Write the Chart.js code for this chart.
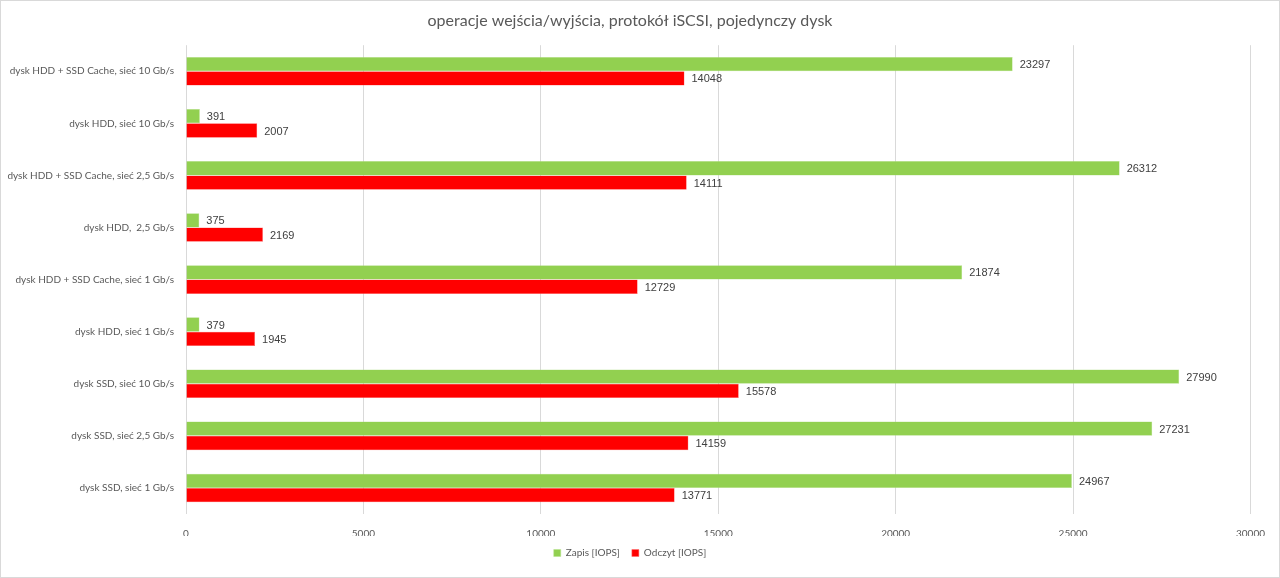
<!DOCTYPE html>
<html>
<head>
<meta charset="utf-8">
<script src="https://cdn.jsdelivr.net/npm/chart.js@4/dist/chart.umd.min.js"></script>
<style>
  html, body { margin: 0; padding: 0; background: #fff; }
  #wrap { position: relative; width: 1280px; height: 578px; box-sizing: border-box; border: 1px solid #d9d9d9; }
  canvas { display: block; }
</style>
</head>
<body>
<div id="wrap"><canvas id="chart" width="1278" height="576"></canvas></div>
<script>
// categories, top to bottom
const categories = [
  "dysk HDD + SSD Cache, sieć 10 Gb/s",
  "dysk HDD, sieć 10 Gb/s",
  "dysk HDD + SSD Cache, sieć 2,5 Gb/s",
  "dysk HDD,  2,5 Gb/s",
  "dysk HDD + SSD Cache, sieć 1 Gb/s",
  "dysk HDD, sieć 1 Gb/s",
  "dysk SSD, sieć 10 Gb/s",
  "dysk SSD, sieć 2,5 Gb/s",
  "dysk SSD, sieć 1 Gb/s"
];
const zapis = [23297, 391, 26312, 375, 21874, 379, 27990, 27231, 24967];
const odczyt = [14048, 2007, 14111, 2169, 12729, 1945, 15578, 14159, 13771];
const xMax = 30000;
const xStep = 5000;

const TEXT = "#595959";
const FONT = "Lato, 'Open Sans', sans-serif";

// value labels at end of each bar
const barLabels = {
  id: "barLabels",
  afterDatasetsDraw(chart) {
    const ctx = chart.ctx;
    ctx.save();
    ctx.font = "11px 'Liberation Sans', Arial, sans-serif";
    ctx.fillStyle = "#404040";
    ctx.textAlign = "left";
    ctx.textBaseline = "middle";
    chart.data.datasets.forEach((ds, i) => {
      chart.getDatasetMeta(i).data.forEach((bar, j) => {
        ctx.fillText(String(ds.data[j]), bar.x + 7, bar.y + 1);
      });
    });
    ctx.restore();
  }
};

new Chart(document.getElementById("chart"), {
  type: "bar",
  data: {
    labels: categories,
    datasets: [
      {
        label: "Zapis [IOPS]",
        data: zapis,
        backgroundColor: "#92D050",
        borderColor: "#b5e08a",
        borderWidth: 0.5,
        categoryPercentage: 0.55,
        barPercentage: 1.0
      },
      {
        label: "Odczyt [IOPS]",
        data: odczyt,
        backgroundColor: "#FF0000",
        borderColor: "#ff6666",
        borderWidth: 0.5,
        categoryPercentage: 0.55,
        barPercentage: 1.0
      }
    ]
  },
  options: {
    indexAxis: "y",
    responsive: false,
    animation: false,
    devicePixelRatio: 1,
    layout: { padding: { left: 0, right: 20, top: 0, bottom: 9 } },
    plugins: {
      title: {
        display: true,
        text: "operacje wejścia/wyjścia, protokół iSCSI, pojedynczy dysk",
        color: TEXT,
        font: { family: FONT, size: 16, weight: "normal" },
        padding: { top: 10, bottom: 15 }
      },
      legend: {
        position: "bottom",
        labels: {
          color: TEXT,
          font: { family: FONT, size: 10 },
          boxWidth: 7,
          boxHeight: 7,
          padding: 12
        }
      },
      tooltip: { enabled: false }
    },
    scales: {
      x: {
        min: 0,
        max: xMax,
        grid: { color: "#d9d9d9", drawTicks: false },
        border: { display: false },
        afterFit: (axis) => { axis.height = 22; },
        ticks: {
          stepSize: xStep,
          autoSkip: false,
          maxRotation: 0,
          color: TEXT,
          font: { family: FONT, size: 10 },
          padding: 14,
          callback: (v) => String(v)
        }
      },
      y: {
        grid: { display: false },
        border: { display: false },
        afterFit: (axis) => { axis.width = 185; },
        ticks: { autoSkip: false, color: TEXT, font: { family: FONT, size: 10 }, padding: 4 }
      }
    }
  },
  plugins: [barLabels]
});
</script>
</body>
</html>
